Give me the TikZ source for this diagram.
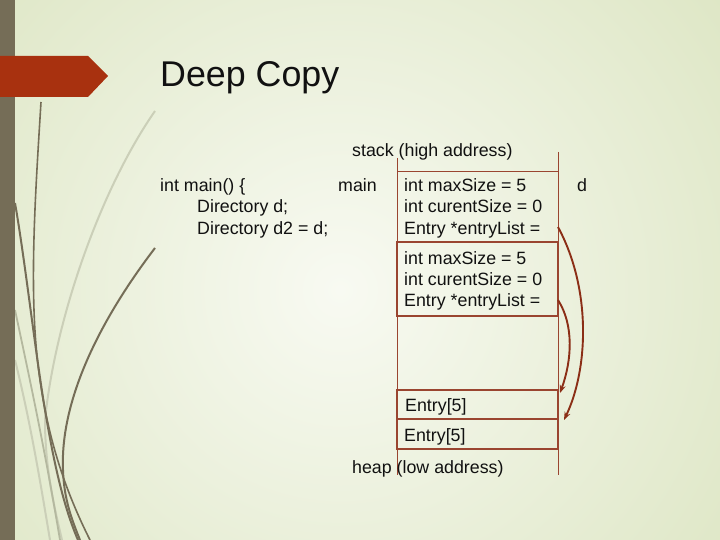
\documentclass[tikz,border=0pt]{standalone}
\usepackage{fontspec}
\setmainfont{Liberation Sans}
\usetikzlibrary{arrows.meta}
\definecolor{barc}{HTML}{756D57}
\definecolor{bannerc}{HTML}{A8310F}
\definecolor{bgouter}{HTML}{DCE5C2}
\definecolor{bginner}{HTML}{F8FAF2}
\definecolor{grassdark}{HTML}{756D57}
\definecolor{grasslight}{HTML}{CBCFB8}
\definecolor{grassmid}{HTML}{B4B89F}
\definecolor{memc}{HTML}{9A4530}
\definecolor{ptrc}{HTML}{8B2E16}
\definecolor{txtc}{HTML}{111111}
\tikzset{
  txt/.style={font=\fontsize{17.8}{21}\selectfont, inner sep=0pt, anchor=base west, text=txtc},
  memline/.style={draw=memc, line width=0.8pt},
  boxline/.style={draw=memc, line width=1.05pt},
  ptr/.style={draw=ptrc, line width=1.9pt, -{Stealth[length=8pt,width=6pt]}},
  grass/.style={draw=grassdark, line width=2pt},
  grassl/.style={draw=grasslight, line width=2pt},
  grassm/.style={draw=grassmid, line width=1.8pt}
}
\begin{document}
\begin{tikzpicture}[x=1pt,y=-1pt]
\useasboundingbox (0,0) rectangle (720,540);
% background
\begin{scope}
\clip (0,0) rectangle (720,540);
\fill[bgouter] (0,0) rectangle (720,540);
\shade[inner color=bginner, outer color=bgouter] (340,290) circle (520pt);
\end{scope}
% grass
\draw[grassl] (155,111) .. controls (100,190) and (55,320) .. (45,420) .. controls (45,470) and (55,510) .. (62,540);
\draw[grassm] (15,310) .. controls (30,380) and (45,450) .. (60,540);
\draw[grassl] (15,360) .. controls (30,420) and (40,480) .. (50,540);
\draw[grass, line width=1.6pt] (41,102) .. controls (35,200) and (28,300) .. (40,380) .. controls (50,450) and (70,500) .. (90,540);
\draw[grass] (15,203) .. controls (25,260) and (35,350) .. (45,410) .. controls (55,470) and (65,510) .. (78,540);
\draw[grass] (155,248) .. controls (100,320) and (60,400) .. (63,470) .. controls (64,500) and (72,520) .. (80,540);
% left bar
\fill[barc] (0,0) rectangle (15,540);
% banner
\fill[bannerc] (0,56) -- (88,56) -- (108,76) -- (88,97) -- (0,97) -- cycle;
% title
\node[anchor=base west, inner sep=0pt, font=\fontsize{35.8}{40}\selectfont, text=txtc] (title) at (160,87) {Deep Copy};
% code
\node[txt] (code1) at (160,192) {int main() \{};
\node[txt] (code2) at (197,213) {Directory d;};
\node[txt] (code3) at (197,234) {Directory d2 = d;};
% memory frame
\coordinate (lt) at (397,158);
\coordinate (lb) at (397,475);
\coordinate (rt) at (558,152);
\coordinate (rb) at (558,475);
\draw[memline] (lt) -- (lb);
\draw[memline] (rt) -- (rb);
\draw[memline] (397,171) -- (558,171);
\draw[boxline] (397,242) rectangle (558,316);
\draw[boxline] (397,390) rectangle (558,419);
\draw[boxline] (397,419) rectangle (558,449);
% labels
\node[txt] (stack) at (352,157) {stack (high address)};
\node[txt] (heap) at (352,473) {heap (low address)};
\node[txt, anchor=base east] (mainlbl) at (377,192) {main};
\node[txt] (dlbl) at (577,192) {d};
% box 1
\node[txt] (b1a) at (404,192) {int maxSize = 5};
\node[txt] (b1b) at (404,213) {int curentSize = 0};
\node[txt] (b1c) at (404,234) {Entry *entryList =};
% box 2
\node[txt] (b2a) at (404,264) {int maxSize = 5};
\node[txt] (b2b) at (404,285) {int curentSize = 0};
\node[txt] (b2c) at (404,306) {Entry *entryList =};
% entries
\node[txt] (e1) at (405,411) {Entry[5]};
\node[txt] (e2) at (404,441) {Entry[5]};
% pointers
\coordinate (p1) at (558,227);
\coordinate (t1) at (564,420);
\coordinate (p2) at (558,300);
\coordinate (t2) at (560,393);
\draw[ptr] (p1) .. controls (592,290) and (588,370) .. (t1);
\draw[ptr] (p2) .. controls (574,325) and (572,360) .. (t2);
\end{tikzpicture}
\end{document}
